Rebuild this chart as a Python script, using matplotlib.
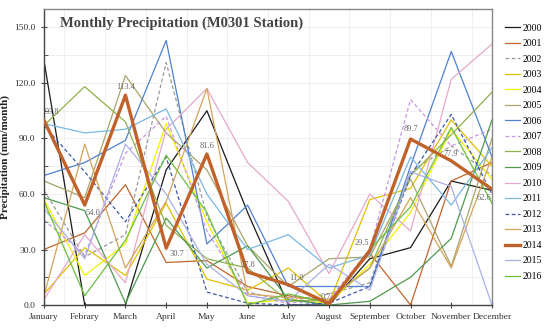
import numpy as np
import matplotlib
matplotlib.use("Agg")
import matplotlib.pyplot as plt
from matplotlib.ticker import MultipleLocator, FormatStrFormatter

months = ["January", "Febrary", "March", "April", "May", "June", "July",
          "August", "September", "October", "November", "December"]

years = [str(y) for y in range(2000, 2017)]

# monthly precipitation (mm/month)
p2000 = [132, 0, 0, 73, 105, 50, 0, 0, 25, 31, 67, 62]
p2001 = [30, 39, 65, 23, 24, 10, 5, 2, 28, 0, 67, 77]
p2002 = [62, 26, 38, 131, 48, 7, 2, 6, 12, 72, 86, 70]
p2003 = [6, 31, 16, 55, 14, 8, 20, 1, 57, 63, 100, 75]
p2004 = [57, 16, 33, 98, 45, 1, 3, 1, 22, 50, 95, 68]
p2005 = [67, 58, 124, 93, 73, 32, 10, 25, 26, 68, 21, 90]
p2006 = [70, 77, 89, 143, 33, 54, 10, 10, 10, 75, 137, 80]
p2007 = [46, 27, 82, 102, 40, 5, 1, 3, 30, 111, 86, 95]
p2008 = [97, 118, 99, 43, 25, 20, 2, 3, 20, 70, 92, 115]
p2009 = [58, 51, 1, 47, 20, 32, 3, 0, 2, 15, 36, 100]
p2010 = [3, 38, 12, 95, 117, 77, 56, 17, 60, 40, 122, 141]
p2011 = [98, 93, 95, 106, 60, 30, 38, 20, 27, 80, 54, 85]
p2012 = [97, 72, 45, 80, 7, 1, 0, 1, 10, 70, 103, 60]
p2013 = [5, 87, 20, 56, 117, 6, 4, 3, 20, 58, 20, 80]
p2014 = [99.8, 54.0, 113.4, 30.7, 81.6, 17.8, 11.0, 0.7, 29.5, 89.7, 77.9, 62.6]
p2015 = [52, 25, 87, 60, 22, 5, 2, 22, 8, 72, 64, 0]
p2016 = [56, 5, 35, 81, 50, 0, 6, 1, 30, 53, 96, 55]

series = [p2000, p2001, p2002, p2003, p2004, p2005, p2006, p2007, p2008,
          p2009, p2010, p2011, p2012, p2013, p2014, p2015, p2016]

colors = ["#1a1a1a", "#c0652c", "#9a9a9a", "#e0c000", "#f2f200", "#a9a46b",
          "#4f81d0", "#c896e6", "#8fb04a", "#4e9a4e", "#e6a8cc", "#7ab8e6",
          "#3a5aa8", "#d4a35a", "#c0622a", "#aab0e6", "#6cc040"]
dashed = {"2002", "2007", "2012"}

# label offsets (points) for the 2014 values
label_off = [(6, 6), (6, -6), (0, 6), (8, -4), (0, 6), (0, 5),
             (6, 5), (-2, 5), (-6, 5), (0, 7), (0, 5), (-6, -6)]

plt.rcParams["font.family"] = ["Liberation Serif", "DejaVu Serif"]

fig = plt.figure(figsize=(5.5, 3.31), dpi=100)
ax = fig.add_axes([0.08, 0.0785, 0.8145, 0.8945])

x = np.arange(len(months))
for yr, vals, c in zip(years, series, colors):
    lw = 2.4 if yr == "2014" else 0.9
    ls = (0, (3, 2)) if yr in dashed else "-"
    ax.plot(x, vals, color=c, lw=lw, ls=ls, label=yr, zorder=3 if yr == "2014" else 2)

for i, v in enumerate(p2014):
    ax.annotate("%.1f" % v, (x[i], v), xytext=label_off[i], textcoords="offset points",
                ha="center", va="center", fontsize=6, color="#666666", zorder=5)

ax.set_xlim(0, 11)
ax.set_ylim(0, 160)
ax.set_xticks(x)
ax.set_xticklabels(months, fontsize=6.8, color="#333333")
ax.set_xticks(x[:-1] + 0.5, minor=True)
ax.yaxis.set_major_locator(MultipleLocator(30))
ax.yaxis.set_minor_locator(MultipleLocator(15))
ax.yaxis.set_major_formatter(FormatStrFormatter("%.1f"))
for lab in ax.get_yticklabels():
    lab.set_fontsize(6.8)
    lab.set_color("#333333")
ax.tick_params(axis="both", which="major", direction="inout", length=5, width=0.8, color="#444444")
ax.tick_params(axis="x", which="minor", length=0)
ax.tick_params(axis="y", which="minor", direction="in", length=3, color="#444444")
ax.grid(True, which="both", color="#ececec", lw=0.6, zorder=0)
ax.xaxis.grid(False, which="major")
ax.set_axisbelow(True)

for s in ["left", "bottom"]:
    ax.spines[s].set_color("#444444")
    ax.spines[s].set_linewidth(1.0)
for s in ["top", "right"]:
    ax.spines[s].set_color("#888888")
    ax.spines[s].set_linewidth(1.0)

ax.set_ylabel("Precipitation (mm/month)", fontsize=8, fontweight="bold", color="#222222")
ax.yaxis.set_label_coords(-0.076, 0.5)
ax.text(0.035, 0.975, "Monthly Precipitation (M0301 Station)", transform=ax.transAxes,
        fontsize=10.5, fontweight="bold", color="#444444", ha="left", va="top")

ax.legend(loc="upper left", bbox_to_anchor=(1.021, 0.963), frameon=False, fontsize=7,
          handlelength=1.55, handletextpad=0.2, labelspacing=0.67, borderaxespad=0)

fig.savefig("out.png", dpi=100)
